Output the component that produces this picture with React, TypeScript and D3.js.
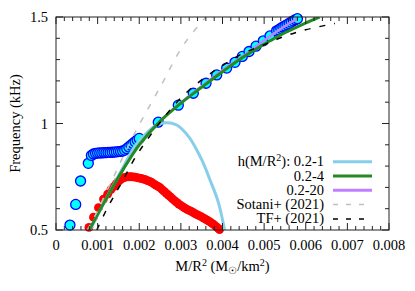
import React from "react";
import * as d3 from "d3";

// ---- data ----
const xTicks = [0, 0.001, 0.002, 0.003, 0.004, 0.005, 0.006, 0.007, 0.008];
const xTickLabels = ["0", "0.001", "0.002", "0.003", "0.004", "0.005", "0.006", "0.007", "0.008"];
const yTicks = [0.5, 1, 1.5];
const yTickLabels = ["0.5", "1", "1.5"];

// simulation points (cyan circles)
const simX = [
  0.000336, 0.000473, 0.00059, 0.000776,
  0.00085, 0.0009, 0.00095, 0.001, 0.00105, 0.0011, 0.00115, 0.0012, 0.00125, 0.0013,
  0.00135, 0.0014, 0.00145, 0.0015, 0.00155, 0.0016, 0.00165, 0.0017, 0.00175, 0.0018,
  0.00185, 0.0019, 0.00195, 0.002,
  0.002457, 0.002938, 0.003298, 0.003604, 0.00386, 0.0041, 0.0043, 0.004476, 0.004637,
  0.004805, 0.00498, 0.00514, 0.0053, 0.00535, 0.0054, 0.00545, 0.0055, 0.00555, 0.0056,
  0.00565, 0.0057, 0.00575, 0.0058,
];
const simY = [
  0.523, 0.62, 0.73, 0.813,
  0.85, 0.857, 0.86, 0.861, 0.862, 0.862, 0.863, 0.863, 0.864, 0.864,
  0.865, 0.866, 0.867, 0.868, 0.869, 0.871, 0.875, 0.882, 0.89, 0.898,
  0.906, 0.914, 0.922, 0.93,
  1.006, 1.086, 1.142, 1.189, 1.228, 1.26, 1.287, 1.315, 1.338,
  1.363, 1.388, 1.411, 1.435, 1.44, 1.447, 1.453, 1.458, 1.464, 1.47,
  1.476, 1.482, 1.487, 1.492,
];

// red points
const redX = [
  0.00079, 0.0009, 0.00102, 0.00114, 0.00124, 0.00132,
  0.0014, 0.00145, 0.0015, 0.00155, 0.0016, 0.00165, 0.0017, 0.00175, 0.0018, 0.00185,
  0.0019, 0.00195, 0.002, 0.00205, 0.0021, 0.00215, 0.0022, 0.00225, 0.0023, 0.00235,
  0.0024, 0.00245, 0.0025, 0.00255, 0.0026, 0.00265, 0.0027, 0.00275, 0.0028, 0.00285,
  0.0029, 0.00295, 0.003, 0.00305, 0.0031, 0.00315, 0.0032, 0.00325, 0.0033, 0.00335,
  0.0034, 0.00345, 0.0035, 0.00355, 0.0036, 0.00365, 0.0037, 0.00375, 0.0038, 0.00385,
  0.0039, 0.00393,
];
const redY = [
  0.512, 0.56, 0.605, 0.645, 0.668, 0.69,
  0.705, 0.718, 0.728, 0.737, 0.743, 0.747, 0.749, 0.75, 0.75, 0.749,
  0.748, 0.746, 0.744, 0.742, 0.739, 0.736, 0.732, 0.728, 0.723, 0.717,
  0.711, 0.705, 0.699, 0.69, 0.681, 0.672, 0.664, 0.655, 0.646, 0.638,
  0.63, 0.622, 0.615, 0.609, 0.603, 0.597, 0.592, 0.587, 0.582, 0.576,
  0.571, 0.566, 0.561, 0.556, 0.55, 0.544, 0.538, 0.531, 0.524, 0.516,
  0.508, 0.502,
];

// h(M/R^2): 0.2-1
const h1X = [0.00082, 0.0012, 0.0016, 0.0019, 0.0022, 0.0024, 0.0026, 0.0029, 0.0032, 0.0035, 0.0037, 0.0039, 0.00405];
const h1Y = [0.5, 0.645, 0.79, 0.895, 0.96, 0.99, 1.003, 0.993, 0.935, 0.83, 0.735, 0.63, 0.5];
// 0.2-4
const h4X = [0.0008, 0.0012, 0.0016, 0.002, 0.0025, 0.003, 0.0035, 0.004, 0.0045, 0.005, 0.0055, 0.006, 0.00633];
const h4Y = [0.5, 0.645, 0.78, 0.9, 1.01, 1.095, 1.17, 1.243, 1.312, 1.372, 1.426, 1.472, 1.5];
// 0.2-20
const h20X = [0.0008, 0.0012, 0.0016, 0.002, 0.0025, 0.003, 0.0035, 0.004, 0.0045, 0.005, 0.0055, 0.0058];
const h20Y = [0.5, 0.645, 0.78, 0.9, 1.012, 1.098, 1.175, 1.25, 1.318, 1.39, 1.457, 1.492];
// Sotani+ (2021)
const sotX = [0.00075, 0.001, 0.0012, 0.0014, 0.0016, 0.0018, 0.002, 0.0025, 0.003, 0.0033, 0.0036];
const sotY = [0.5, 0.59, 0.675, 0.755, 0.84, 0.92, 0.995, 1.17, 1.35, 1.43, 1.5];
// TF+ (2021)
const tfX = [0.00098, 0.0012, 0.0014, 0.0016, 0.0018, 0.002, 0.0025, 0.003, 0.0035, 0.004, 0.0045, 0.005, 0.0055, 0.006, 0.0067];
const tfY = [0.5, 0.59, 0.662, 0.73, 0.805, 0.87, 1.005, 1.12, 1.205, 1.272, 1.33, 1.37, 1.41, 1.44, 1.47];

const legendLabels = ["h(M/R²): 0.2-1", "0.2-4", "0.2-20", "Sotani+ (2021)", "TF+ (2021)"];

export default function App() {
  const W = 415, H = 291;
  const L = 56, R = 389, T = 17, B = 230;
  const x = d3.scaleLinear().domain([0, 0.008]).range([L, R]);
  const y = d3.scaleLinear().domain([0.5, 1.5]).range([B, T]);
  const font = '"Liberation Serif", "Times New Roman", serif';
  const fs = 14.5;
  const ts: React.CSSProperties = { fontFamily: font, fontSize: fs };
  const sup: React.CSSProperties = { fontSize: 10 };

  const mk = (xs: number[], ys: number[]) => xs.map((v, i) => [v, ys[i]] as [number, number]);
  const line = d3.line<[number, number]>().x(d => x(d[0])).y(d => y(d[1])).curve(d3.curveCatmullRom);

  const minorX = d3.range(0, 0.00801, 0.0002);
  const minorY = d3.range(0.5, 1.501, 0.1);

  const legendRows = [
    { color: "#87ceeb", dash: "", w: 3 },
    { color: "#228b22", dash: "", w: 3 },
    { color: "#bf80ff", dash: "", w: 3 },
    { color: "#c0c0c0", dash: "5,8", w: 1.5 },
    { color: "#000", dash: "5,8", w: 1.5 },
  ];

  return (
    <svg width={W} height={H} style={{ display: "block", position: "absolute", left: 0, top: 0 }}>
      <rect x={0} y={0} width={W} height={H} fill="#fff" />
      <defs>
        <clipPath id="plot">
          <rect x={L} y={T} width={R - L} height={B - T} />
        </clipPath>
      </defs>
      {/* data points */}
      {simX.map((v, i) => (
        <circle key={"s" + i} cx={x(v)} cy={y(simY[i])} r={5} fill="#00ffff" stroke="#0000ff" strokeWidth={1.3} />
      ))}
      {redX.map((v, i) => (
        <circle key={"r" + i} cx={x(v)} cy={y(redY[i])} r={4.4} fill="#ff0000" />
      ))}
      <g clipPath="url(#plot)" fill="none">
        <path d={line(mk(h20X, h20Y)) || ""} stroke="#bf80ff" strokeWidth={2.5} />
        <path d={line(mk(h1X, h1Y)) || ""} stroke="#87ceeb" strokeWidth={3} />
        <path d={line(mk(h4X, h4Y)) || ""} stroke="#228b22" strokeWidth={3} />
        <path d={line(mk(sotX, sotY)) || ""} stroke="#c0c0c0" strokeWidth={1.5} strokeDasharray="6,9" />
        <path d={line(mk(tfX, tfY)) || ""} stroke="#000" strokeWidth={1.5} strokeDasharray="6,9" />
      </g>
      {/* legend */}
      {legendLabels.map((lab, i) => {
        const cy = 161.7 + i * 14.3;
        const row = legendRows[i];
        return (
          <g key={"l" + i}>
            {i === 0 ? (
              <text x={324} y={cy + 4.5} textAnchor="end" style={ts}>
                h(M/R<tspan dy={-5} style={sup}>2</tspan><tspan dy={5}>): 0.2-1</tspan>
              </text>
            ) : (
              <text x={324} y={cy + 4.5} textAnchor="end" style={ts}>{lab}</text>
            )}
            <line x1={333} x2={372} y1={cy} y2={cy} stroke={row.color} strokeWidth={row.w} strokeDasharray={row.dash} />
          </g>
        );
      })}
      {/* frame */}
      <rect x={L} y={T} width={R - L} height={B - T} fill="none" stroke="#222" strokeWidth={1} />
      {/* ticks */}
      {minorX.map((v, i) => {
        const major = i % 5 === 0;
        const len = major ? 7 : 4;
        return (
          <g key={"tx" + i} stroke="#222" strokeWidth={1}>
            <line x1={x(v)} x2={x(v)} y1={B} y2={B - len} />
            <line x1={x(v)} x2={x(v)} y1={T} y2={T + len} />
          </g>
        );
      })}
      {minorY.map((v, i) => {
        const major = i % 5 === 0;
        const len = major ? 7 : 4;
        return (
          <g key={"ty" + i} stroke="#222" strokeWidth={1}>
            <line x1={L} x2={L + len} y1={y(v)} y2={y(v)} />
            <line x1={R} x2={R - len} y1={y(v)} y2={y(v)} />
          </g>
        );
      })}
      {xTicks.map((v, i) => (
        <text key={"xl" + i} x={x(v)} y={250} textAnchor="middle" style={ts}>{xTickLabels[i]}</text>
      ))}
      {yTicks.map((v, i) => (
        <text key={"yl" + i} x={48} y={y(v) + 5} textAnchor="end" style={ts}>{yTickLabels[i]}</text>
      ))}
      {/* axis titles */}
      <text x={(L + R) / 2} y={271} textAnchor="middle" style={ts}>
        M/R<tspan dy={-5} style={sup}>2</tspan><tspan dy={5}> (M</tspan><tspan dy={3} style={sup}>☉</tspan><tspan dy={-3}>/km</tspan><tspan dy={-5} style={sup}>2</tspan><tspan dy={5}>)</tspan>
      </text>
      <text transform={`translate(20,${(T + B) / 2}) rotate(-90)`} textAnchor="middle" style={ts}>Frequency (kHz)</text>
    </svg>
  );
}
